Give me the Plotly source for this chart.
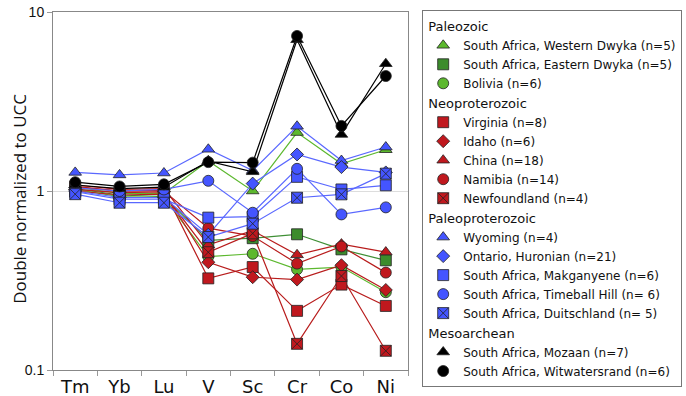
import plotly.graph_objects as go

elements = ["Tm", "Yb", "Lu", "V", "Sc", "Cr", "Co", "Ni"]

western_dwyka = [1.05, 0.97, 0.97, 1.47, 1.00, 2.12, 1.42, 1.70]
eastern_dwyka = [1.03, 0.95, 0.93, 0.53, 0.545, 0.573, 0.472, 0.41]
bolivia = [1.02, 0.93, 0.92, 0.43, 0.446, 0.365, 0.376, 0.272]
virginia = [1.06, 1.00, 1.01, 0.325, 0.376, 0.214, 0.30, 0.228]
idaho = [1.02, 0.98, 0.99, 0.40, 0.33, 0.32, 0.385, 0.28]
china = [1.08, 1.02, 1.03, 0.50, 0.60, 0.44, 0.505, 0.456]
namibia = [1.05, 1.00, 1.00, 0.62, 0.56, 0.393, 0.49, 0.35]
newfoundland = [1.00, 0.95, 0.96, 0.455, 0.58, 0.14, 0.335, 0.128]
wyoming = [1.27, 1.23, 1.26, 1.71, 1.30, 2.30, 1.48, 1.76]
ontario = [1.00, 0.92, 0.92, 0.57, 1.10, 1.60, 1.36, 1.27]
makganyene = [0.99, 0.90, 0.90, 0.71, 0.72, 1.20, 1.02, 1.076]
timeball = [1.04, 1.00, 1.02, 1.14, 0.756, 1.33, 0.74, 0.81]
duitschland = [0.96, 0.86, 0.86, 0.553, 0.657, 0.917, 0.958, 1.25]
mozaan = [1.08, 1.03, 1.05, 1.47, 1.28, 7.00, 2.07, 5.14]
witwatersrand = [1.12, 1.06, 1.09, 1.45, 1.44, 7.35, 2.31, 4.39]

y_tick_vals = [0.1, 1, 10]
y_tick_text = ["0.1", "1", "10"]
y_title = "Double normalized to UCC"

BLUE = "#4455ff"
BLUE_L = "#5a68ff"
GREEN = "#5cb82e"
DGREEN = "#3c8c2c"
RED = "#c0181e"
RED_L = "#b81c1c"
BLACK = "#000000"

series = [
    ("Paleozoic", "South Africa, Western Dwyka (n=5)", western_dwyka, "triangle-up", GREEN, GREEN),
    ("Paleozoic", "South Africa, Eastern Dwyka (n=5)", eastern_dwyka, "square", DGREEN, "#3f8f35"),
    ("Paleozoic", "Bolivia (n=6)", bolivia, "circle", GREEN, GREEN),
    ("Neoproterozoic", "Virginia (n=8)", virginia, "square", RED, RED_L),
    ("Neoproterozoic", "Idaho (n=6)", idaho, "diamond", RED, RED_L),
    ("Neoproterozoic", "China (n=18)", china, "triangle-up", RED, RED_L),
    ("Neoproterozoic", "Namibia (n=14)", namibia, "circle", RED, RED_L),
    ("Neoproterozoic", "Newfoundland (n=4)", newfoundland, "square-x", RED, RED_L),
    ("Paleoproterozoic", "Wyoming (n=4)", wyoming, "triangle-up", BLUE, BLUE_L),
    ("Paleoproterozoic", "Ontario, Huronian (n=21)", ontario, "diamond", BLUE, BLUE_L),
    ("Paleoproterozoic", "South Africa, Makganyene (n=6)", makganyene, "square", BLUE, BLUE_L),
    ("Paleoproterozoic", "South Africa, Timeball Hill (n= 6)", timeball, "circle", BLUE, BLUE_L),
    ("Paleoproterozoic", "South Africa, Duitschland (n= 5)", duitschland, "square-x", BLUE, BLUE_L),
    ("Mesoarchean", "South Africa, Mozaan (n=7)", mozaan, "triangle-up", BLACK, BLACK),
    ("Mesoarchean", "South Africa, Witwatersrand (n=6)", witwatersrand, "circle", BLACK, BLACK),
]

fig = go.Figure()
seen = set()
for group, name, vals, sym, fill, lcol in series:
    fig.add_trace(go.Scatter(
        x=elements, y=vals, mode="lines", line=dict(color=lcol, width=1.2),
        showlegend=False, legendgroup=group, hoverinfo="skip"))
for group, name, vals, sym, fill, lcol in series:
    kw = {}
    if group not in seen:
        kw["legendgrouptitle_text"] = group
        seen.add(group)
    fig.add_trace(go.Scatter(
        x=elements, y=vals, mode="markers", name=name, legendgroup=group,
        marker=dict(symbol=sym, size=11 if sym != "diamond" else 10, color=fill,
                    line=dict(color="#222222", width=0.8)),
        **kw))

font_family = "DejaVu Sans"
fig.update_layout(
    width=686, height=396,
    margin=dict(l=53, r=278, t=12, b=26, autoexpand=False),
    paper_bgcolor="white", plot_bgcolor="white",
    showlegend=True,
    legend=dict(
        x=1.04, y=0.975, xanchor="left", yanchor="top", yref="container",
        maxheight=1,
        bordercolor="#777777", borderwidth=1,
        font=dict(family=font_family, size=12, color="#111111"),
        grouptitlefont=dict(family=font_family, size=13, color="#111111"),
        tracegroupgap=0, traceorder="grouped", itemsizing="trace",
    ),
    xaxis=dict(
        type="category", range=[-0.5, 7.5], tickson="boundaries",
        ticks="outside", ticklen=5, tickcolor="#999999",
        showline=True, linecolor="#888888", mirror=True, showgrid=False,
        ticklabelstandoff=0,
        tickfont=dict(family=font_family, size=18, color="#111111"),
    ),
    yaxis=dict(
        type="log", range=[-1, 1], tickvals=y_tick_vals, ticktext=y_tick_text,
        ticks="outside", ticklen=5, tickcolor="#999999",
        showline=True, linecolor="#888888", mirror=True,
        showgrid=True, gridcolor="#dddddd", zeroline=False,
        tickfont=dict(family="Liberation Sans", size=14, color="#111111"),
    ),
    annotations=[dict(
        text=y_title, textangle=-90, showarrow=False,
        xref="paper", yref="paper", x=-0.093, y=0.478,
        xanchor="center", yanchor="middle",
        font=dict(family="Open Sans", size=17, color="#111111"),
    )],
)

fig.write_html("out.html")
